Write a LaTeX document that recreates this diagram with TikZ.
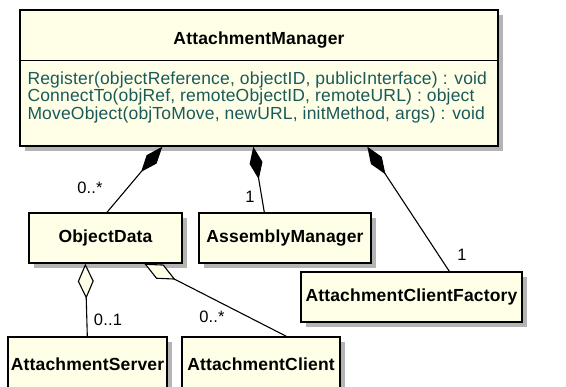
\documentclass[tikz,border=0pt]{standalone}
\usepackage{fontspec}
\setmainfont{Liberation Sans}[LetterSpace=1]
\usetikzlibrary{arrows.meta,shadows}
\definecolor{umlfill}{HTML}{FFFFE8}
\definecolor{umlop}{HTML}{1A5A5A}
\definecolor{umlshade}{HTML}{B4B4B4}

\begin{document}
\begin{tikzpicture}[x=1pt,y=1pt,
			class/.style={draw, line width=1.4pt, fill=umlfill, inner sep=0pt,
				drop shadow={shadow xshift=5pt, shadow yshift=-5pt, fill=umlshade, opacity=1},
				font=\fontsize{17.5}{19}\selectfont\bfseries, minimum height=50pt},
			comp/.style={line width=1.1pt, {Diamond[length=33pt,width=13pt]}-},
			aggr/.style={line width=1.1pt, {Diamond[open,length=35pt,width=16pt,fill=umlfill]}-},
			mult/.style={font=\fontsize{16.5}{18}\selectfont, inner sep=0pt}]
			
			\useasboundingbox (0,0) rectangle (566,-387);
			\clip (0,0) rectangle (566,-387);
			
			% classes
			\node[class, minimum width=478pt, minimum height=136pt] (am) at (259,-78) {};
			\draw[line width=1.4pt] ([yshift=-51pt]am.north west) -- ([yshift=-51pt]am.north east);
			\node[font=\fontsize{17.5}{19}\selectfont\bfseries] (amname) at (259,-40) {AttachmentManager};
			\node[anchor=west, align=left, inner sep=0pt, text=umlop,
				font=\fontsize{17.5}{17.5}\selectfont] (amops) at ([xshift=8pt,yshift=-19pt]am.west)
				{Register(objectReference, objectID, publicInterface) : void\\
				 ConnectTo(objRef, remoteObjectID, remoteURL) : object\\
				 MoveObject(objToMove, newURL, initMethod, args) : void};
			
			\node[class, minimum width=153pt] (od) at (105.5,-238) {ObjectData};
			\node[class, minimum width=172pt] (asm) at (285,-238) {AssemblyManager};
			\node[class, minimum width=221pt] (acf) at (411.5,-297) {AttachmentClientFactory};
			\node[class, minimum width=159pt, minimum height=54pt] (as) at (87.5,-364) {AttachmentServer};
			\node[class, minimum width=158pt, minimum height=54pt] (ac) at (261,-364) {AttachmentClient};
			
			% associations
			\draw[comp] ([xshift=143pt]am.south west) -- ([xshift=1.5pt]od.north);
			\draw[comp] ([xshift=234pt]am.south west) -- ([xshift=66pt]asm.north west);
			\draw[comp] ([xshift=348pt]am.south west) -- ([xshift=149pt]acf.north west);
			\draw[aggr] ([xshift=57pt]od.south west) -- ([xshift=80pt]as.north west);
			\draw[aggr] ([xshift=116pt]od.south west) -- ([xshift=105pt]ac.north west);
			
			% multiplicities
			\node[mult] (m1) at (90,-188) {0..*};
			\node[mult] (m2) at (250,-197) {1};
			\node[mult] (m3) at (462,-255) {1};
			\node[mult] (m4) at (108,-320) {0..1};
			\node[mult] (m5) at (212,-317) {0..*};
			\end{tikzpicture}
\end{document}
